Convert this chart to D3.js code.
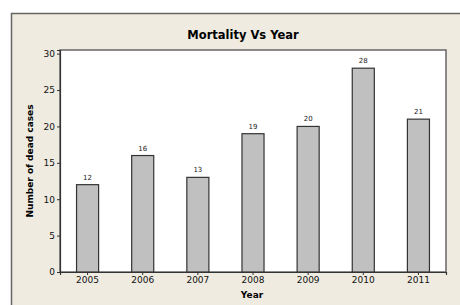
<!DOCTYPE html>
<html>
<head>
<meta charset="utf-8">
<script src="https://cdn.jsdelivr.net/npm/d3@7"></script>
<style>
body{margin:0;background:#fff;}
svg{display:block;font-family:Tahoma,"DejaVu Sans",Verdana,sans-serif;}
</style>
</head>
<body>
<svg width="460" height="305"></svg>
<script>
var years=["2005","2006","2007","2008","2009","2010","2011"];
var deaths=[12,16,13,19,20,28,21];
var yTicks=[0,5,10,15,20,25,30];

var svg=d3.select('svg');
var plotL=60, plotR=446, plotT=50, plotB=272;

// outer frame
svg.append('rect')
    .attr('x',11.5).attr('y',13.5)
    .attr('width',460).attr('height',300)
    .attr('fill','#efebe0')
    .attr('stroke','#666')
    .attr('stroke-width',1.5);

svg.append('rect')
    .attr('x',plotL).attr('y',plotT)
    .attr('width',plotR-plotL).attr('height',plotB-plotT)
    .attr('fill','#fff')
    .attr('stroke','#666')
    .attr('stroke-width',1.5);

var x=d3.scaleBand().domain(years).range([plotL,plotR]).paddingInner(0.6).paddingOuter(0.3);
var y=d3.scaleLinear().domain([0,30.5]).range([plotB,plotT]);

svg.selectAll('.bar').data(deaths).enter().append('rect')
    .attr('class','bar')
    .attr('x',function(d,i){return x(years[i]);})
    .attr('y',function(d){return y(d);})
    .attr('width',x.bandwidth())
    .attr('height',function(d){return plotB-y(d);})
    .attr('fill','#c0c0c0')
    .attr('stroke','#333')
    .attr('stroke-width',1.2);

svg.selectAll('.lbl').data(deaths).enter().append('text')
    .attr('x',function(d,i){return x(years[i])+x.bandwidth()/2;})
    .attr('y',function(d){return y(d)-5;})
    .attr('text-anchor','middle')
    .style('font-size','7px')
    .attr('fill','#222')
    .text(function(d){return d;});

var yAxis=svg.append('g').attr('transform','translate('+plotL+',0)')
    .call(d3.axisLeft(y).tickValues(yTicks).tickSize(3).tickPadding(2));
var xAxis=svg.append('g').attr('transform','translate(0,'+plotB+')')
    .call(d3.axisBottom(x).tickSize(3).tickPadding(2));

[yAxis,xAxis].forEach(function(a){
    a.select('.domain').attr('stroke','#333').attr('stroke-width',1.2);
    a.selectAll('.tick line').attr('stroke','#333');
    a.selectAll('.tick text').style('font-size','9px').attr('fill','#111')
        .style('font-family','Tahoma,"DejaVu Sans",sans-serif');
});

svg.append('text')
    .attr('x',243).attr('y',39)
    .attr('text-anchor','middle')
    .style('font-size','11.5px').style('font-weight','bold')
    .text('Mortality Vs Year');

svg.append('text')
    .attr('x',252).attr('y',298)
    .attr('text-anchor','middle')
    .style('font-size','9px').style('font-weight','bold')
    .text('Year');

svg.append('text')
    .attr('transform','translate(33,'+((plotT+plotB)/2)+') rotate(-90)')
    .attr('text-anchor','middle')
    .style('font-size','9px').style('font-weight','bold')
    .text('Number of dead cases');
</script>
</body>
</html>
